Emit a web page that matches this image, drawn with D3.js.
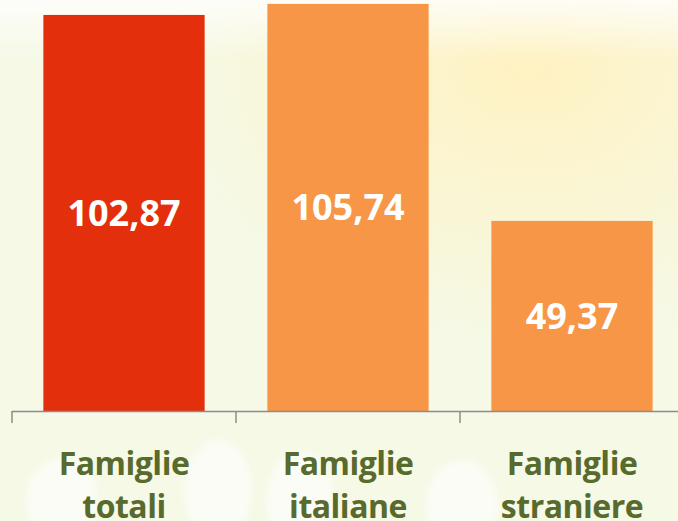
<!DOCTYPE html>
<html>
<head>
<meta charset="utf-8">
<script src="https://cdn.jsdelivr.net/npm/d3@7"></script>
<style>
  body { margin: 0; }
  svg { display: block; }
</style>
</head>
<body>
<div id="chart"></div>
<script>
'use strict'

// Data
const categories = ['Famiglie totali', 'Famiglie italiane', 'Famiglie straniere']
const values = [102.87, 105.74, 49.37]
const valueLabels = ['102,87', '105,74', '49,37']
const barColors = ['#e32f0b', '#f79646', '#f79646']

const width = 678
const height = 521

const svg = d3
  .select('#chart')
  .append('svg')
  .attr('width', width)
  .attr('height', height)

// Background
const defs = svg.append('defs')
const glow = defs
  .append('radialGradient')
  .attr('id', 'glow')
  .attr('cx', '78%')
  .attr('cy', '12%')
  .attr('r', '55%')
glow.append('stop').attr('offset', '0%').attr('stop-color', '#fff2c2')
glow.append('stop').attr('offset', '100%').attr('stop-color', '#fff2c2').attr('stop-opacity', 0)

const topFade = defs
  .append('linearGradient')
  .attr('id', 'topFade')
  .attr('x1', 0).attr('y1', 0).attr('x2', 0).attr('y2', 1)
topFade.append('stop').attr('offset', '0%').attr('stop-color', '#ffffff').attr('stop-opacity', 0.8)
topFade.append('stop').attr('offset', '100%').attr('stop-color', '#ffffff').attr('stop-opacity', 0)

const blur = defs.append('filter').attr('id', 'soft')
blur.append('feGaussianBlur').attr('stdDeviation', 3)

svg.append('rect').attr('width', width).attr('height', height).attr('fill', '#f5f9e6')
svg.append('rect').attr('width', width).attr('height', height).attr('fill', 'url(#glow)')
svg.append('rect').attr('width', width).attr('height', 60).attr('fill', 'url(#topFade)')

// soft white blobs near the bottom
const blobs = [
  { cx: 62, cy: 500, rx: 36, ry: 42 },
  { cx: 218, cy: 490, rx: 34, ry: 50 },
  { cx: 300, cy: 500, rx: 34, ry: 48 },
  { cx: 462, cy: 505, rx: 36, ry: 45 },
]
svg
  .selectAll('ellipse.blob')
  .data(blobs)
  .join('ellipse')
  .attr('class', 'blob')
  .attr('cx', (d) => d.cx)
  .attr('cy', (d) => d.cy)
  .attr('rx', (d) => d.rx)
  .attr('ry', (d) => d.ry)
  .attr('fill', '#ffffff')
  .attr('opacity', 0.6)
  .attr('filter', 'url(#soft)')

// Scales
const xScale = d3
  .scaleBand()
  .domain(categories)
  .range([12, 684])
  .paddingInner(0.28)
  .paddingOuter(0.14)

const yScale = d3.scaleLinear().domain([0, 106.75]).range([411, 0])

// Bars
svg
  .selectAll('rect.bar')
  .data(values)
  .join('rect')
  .attr('class', 'bar')
  .attr('x', (d, i) => xScale(categories[i]))
  .attr('y', (d) => yScale(d))
  .attr('width', xScale.bandwidth())
  .attr('height', (d) => yScale(0) - yScale(d))
  .attr('fill', (d, i) => barColors[i])

// Value labels
svg
  .selectAll('text.value')
  .data(values)
  .join('text')
  .attr('class', 'value')
  .attr('x', (d, i) => xScale(categories[i]) + xScale.bandwidth() / 2)
  .attr('y', (d) => (yScale(d) + yScale(0)) / 2)
  .attr('dy', '0.35em')
  .attr('text-anchor', 'middle')
  .attr('fill', '#ffffff')
  .attr('font-family', 'Open Sans, sans-serif')
  .attr('font-weight', 'bold')
  .attr('font-size', 36)
  .text((d, i) => valueLabels[i])

// X axis: line with ticks between categories
const step = xScale.step()
const tickXs = d3.range(categories.length + 1).map((i) => 12 + i * step)

const axis = svg.append('g').attr('stroke', '#8c8c8c').attr('stroke-width', 1.5)
axis
  .append('line')
  .attr('x1', 12)
  .attr('x2', width)
  .attr('y1', yScale(0) + 0.5)
  .attr('y2', yScale(0) + 0.5)
axis
  .selectAll('line.tick')
  .data(tickXs)
  .join('line')
  .attr('class', 'tick')
  .attr('x1', (d) => d)
  .attr('x2', (d) => d)
  .attr('y1', yScale(0))
  .attr('y2', yScale(0) + 12)

// Category labels
const labels = svg
  .selectAll('text.cat')
  .data(categories)
  .join('text')
  .attr('class', 'cat')
  .attr('text-anchor', 'middle')
  .attr('fill', '#586a2c')
  .attr('font-family', 'Open Sans, sans-serif')
  .attr('font-weight', 'bold')
  .attr('font-size', 32)
  .attr('letter-spacing', -0.5)

labels
  .selectAll('tspan')
  .data((d) => d.split(' ').map((w) => ({ w, c: d })))
  .join('tspan')
  .attr('x', (d) => xScale(d.c) + xScale.bandwidth() / 2)
  .attr('y', (d, i) => 475 + i * 43)
  .text((d) => d.w)
</script>
</body>
</html>
